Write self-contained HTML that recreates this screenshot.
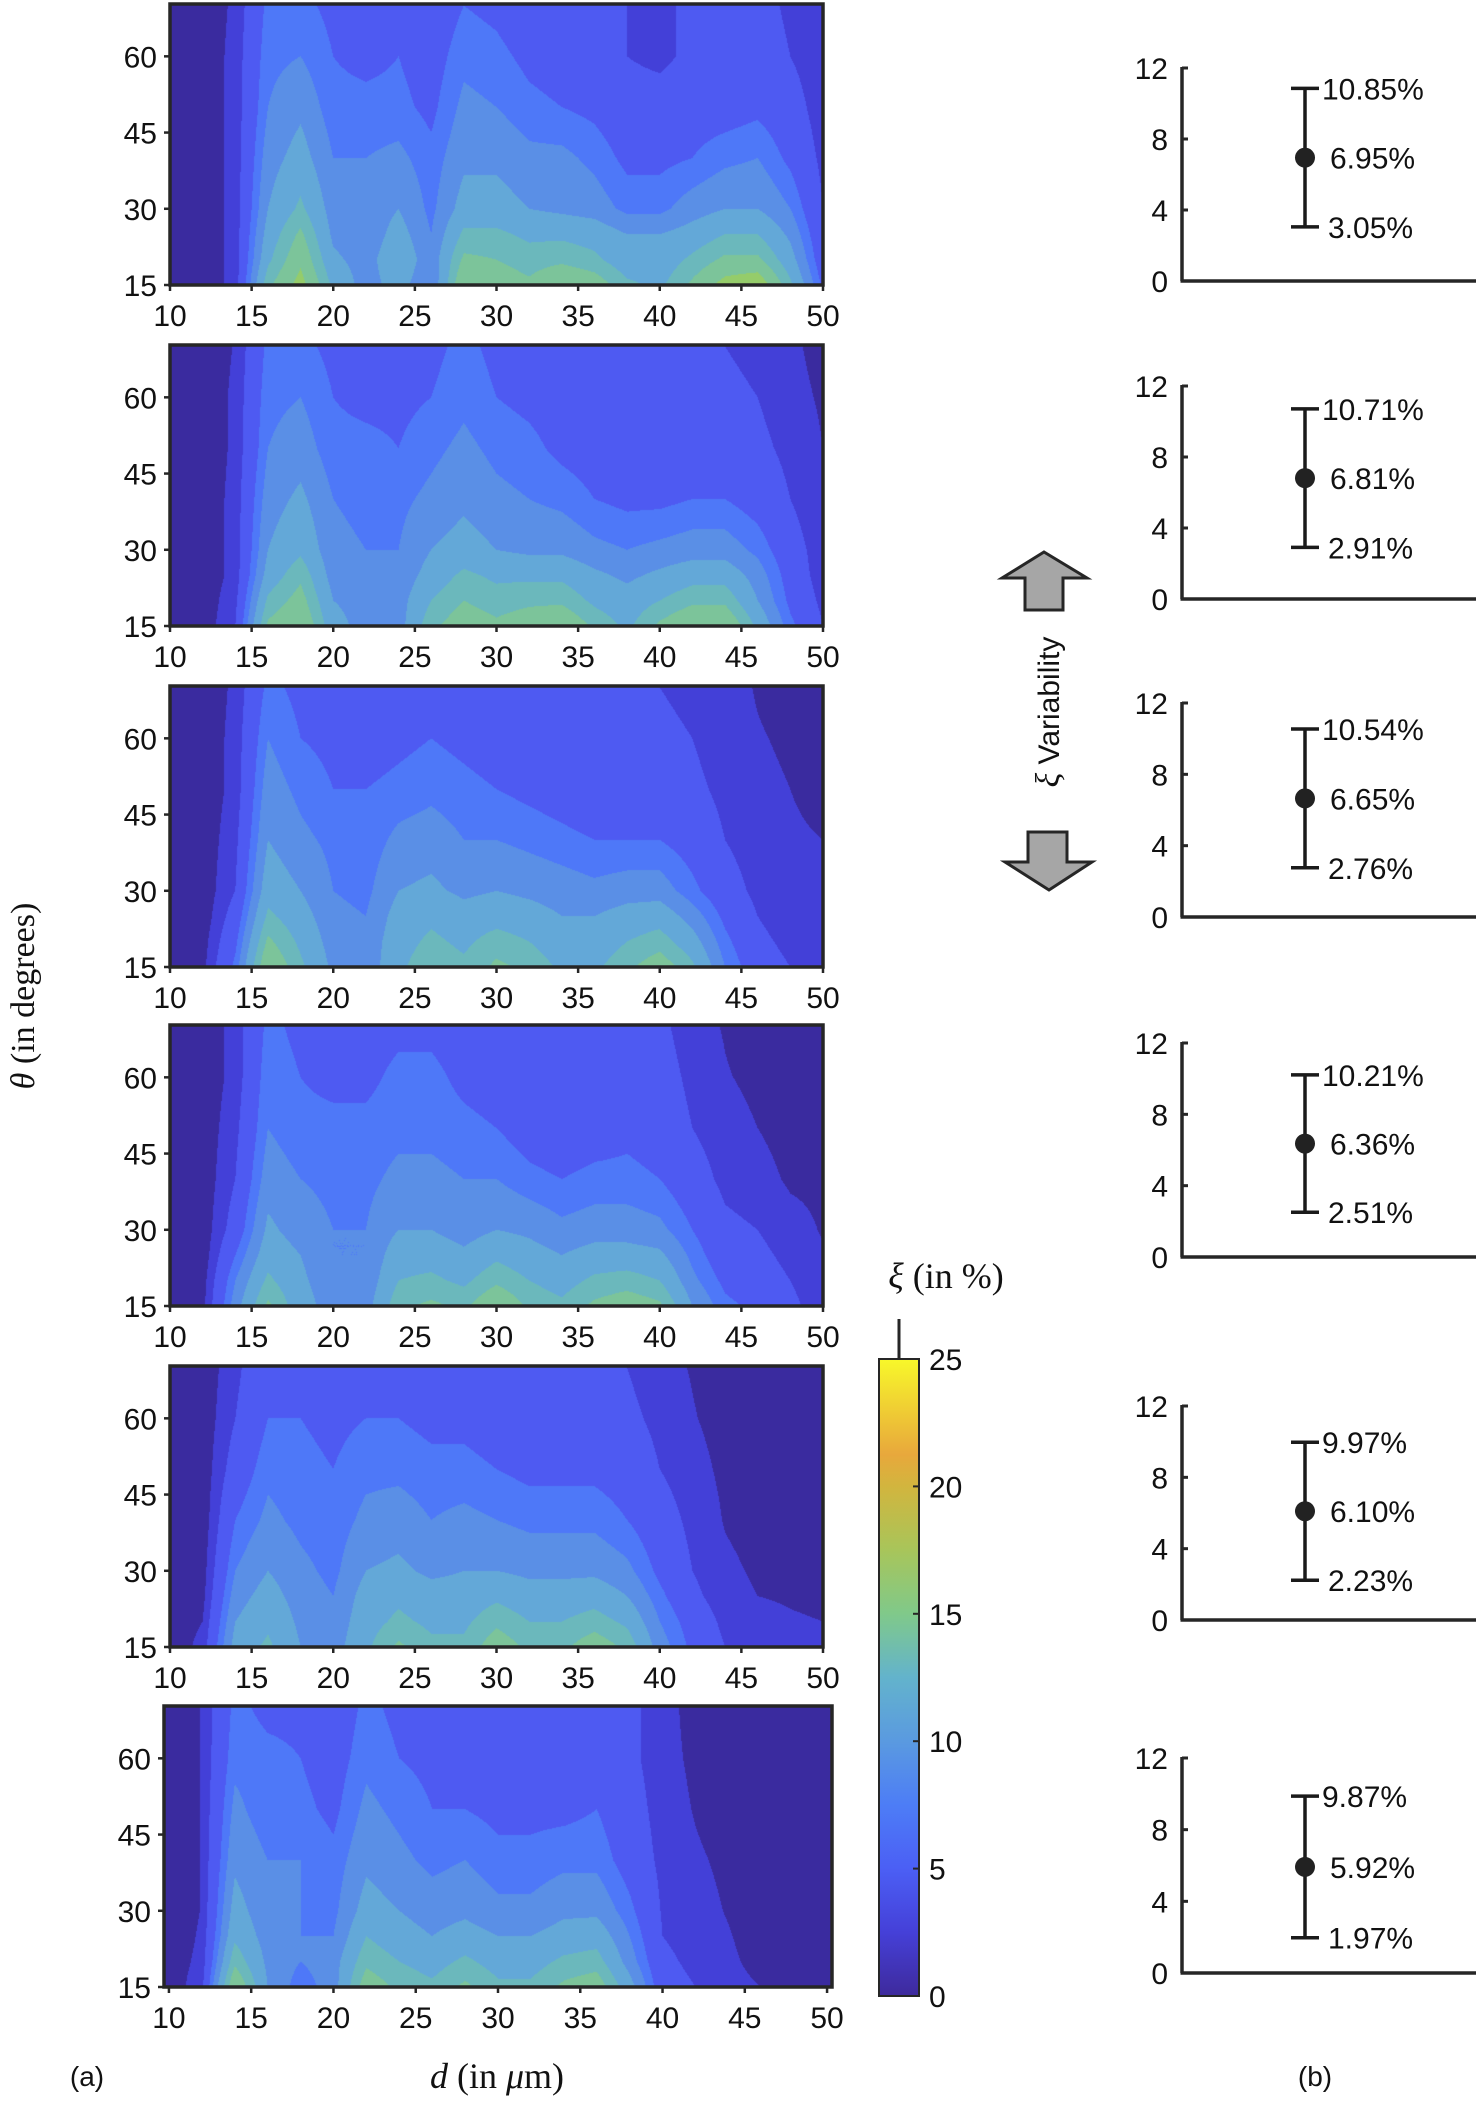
<!DOCTYPE html>
<html><head><meta charset="utf-8">
<style>
html,body{margin:0;padding:0;background:#fff;}
#root{position:relative;width:1480px;height:2104px;overflow:hidden;background:#fff;}
canvas{position:absolute;}
svg{position:absolute;left:0;top:0;}
</style></head>
<body>
<div id="root">
<svg id="svg" width="1480" height="2104"></svg>
</div>
<script>
// ---- data ----
const dGrid = [10,12,14,16,18,20,22,24,26,28,30,32,34,36,38,40,42,44,46,48,50];
const thetaGrid = [15,20,25,30,40,50,60,70];
const xTicks = [10,15,20,25,30,35,40,45,50];
const yTicks = [15,30,45,60];
const cbTicks = [0,5,10,15,20,25];
const panel1 = [
[1,1.5,3,14,18,12,9,11,8,17,16,15,17,16,13,12,15,18,19,13,6],
[1,1.5,3,12,16.5,10.5,9,12,8.5,15,14.5,13.5,14,13,11,11,13,15,15,11,5],
[1,1.5,3,11,15,9.5,8.5,11,8,13,13,12,12,11.5,10,10,11,12.5,12.5,9.5,4.5],
[1,1.5,3,10,13,9,8.5,10,7.5,11,11,10,9.5,9,7.5,7.5,9,10,10,8,4],
[1,1.5,3,9,11,8,8,8.5,7,9.5,9.5,8.5,8.5,7.5,6,6,6.5,7.5,8,6,3.5],
[1,1.5,3,8,9.5,7,7,7,6,8.5,8,7,6.5,6,5,5,5.5,5.5,6,5,3],
[1,1.5,3,7.5,8,6.5,6,6.5,5.5,7.5,7,6,5.5,5,4,3.5,4.5,5,5.5,4,2.8],
[1,1.5,2.8,7,7,6,5.5,5.5,5,6.5,6,5,4.5,4.5,4,3.5,4.5,4,5,3.5,2.6]];
const panel2 = [
[1,1.5,4,15,17,11,9,9,14,16,15,16,17,14,12,15,17,17,12,7,4],
[1,1.5,3.5,13,15.5,10,9,9,12.5,14.5,13.5,14,14,12,11,12.5,14,14,10,6,3.5],
[1,1.5,3,11,14,9,8.5,8.5,11,13,12,12,12,10.5,9.5,10.5,11.5,11.5,9,5.5,3],
[1,1.5,3,10,12,8.5,8,8,10,11,10,9.5,9.5,8.5,8,8.5,9,9,7.5,5,3],
[1,1.5,3,9,10.5,8,7.5,7.5,8.5,9.5,8.5,8,7.5,6.5,6,6,6.5,6.5,5.5,4,2.6],
[1,1.5,2.8,8,9,7,7,6.5,7.5,8.5,7.5,7,6,5.5,5,5,5,5,4.5,3.5,2.5],
[1,1.5,2.8,7.5,8,6.5,6,6,6.5,7.5,6.5,6,5.5,5,4.5,4.5,4.5,4.5,4,3,2.3],
[1,1.5,2.6,7,7,6,5.5,5.5,6,7,6,5.5,5,4.5,4,4,4,4,3.5,2.8,2]];
const panel3 = [
[1,2,7,17,13,9.5,8.5,12,14,13,15,14,12,12,14,16,13,8,5,4,3.5],
[1,1.8,6,15,12,9,8.5,11.5,13,12,13.5,12.5,11,11,12.5,13.5,11,7,4.5,3.5,3],
[1,1.5,5,13,11,8.5,8,11,12,11,11.5,11,10,10,11,11.5,9,6,4,3,2.8],
[1,1.5,4,11.5,10,8,7.5,10,10.5,9.5,10,9.5,9,8.5,9,9,7,5,3.5,2.8,2.6],
[1,1.5,3.5,10,8.5,7.5,7,8.5,9,8,8,7.5,7,6.5,6.5,6.5,5.5,4,3,2.6,2.5],
[1,1.5,3,9,7.5,6.5,6.5,7,7.5,7,6.5,6,5.5,5,5,5,4.5,3.5,2.8,2.5,2.3],
[1,1.5,3,8,6.5,6,5.5,6,6.5,6,5.5,5,5,4.5,4.5,4.5,4,3,2.6,2.3,2],
[1,1.5,2.8,7,6,5.5,5,5.5,6,5.5,5,4.5,4.5,4,4,4,3.5,3,2.4,2,1.8]];
const panel4 = [
[1,2,9,15,11,9,9,14,15,14,17,14,13,15,16,15,10,7,6,4.5,3],
[1,1.8,8,13,10.5,8.5,8.5,12.5,13,12,14,12.5,11.5,13,13.5,12.5,8.5,6,5,4,2.8],
[1,1.5,6.5,11.5,10,8,8,11.5,11.5,10.5,12,11,10,11,11,10.5,7.5,5,4.5,3.5,2.6],
[1,1.5,5,10.5,9,8,8,10,10,9,10,9.5,8.5,9,9,8.5,6.5,4.5,4,3,2.4],
[1,1.5,4,9,8,7.5,7.5,8.5,8.5,8,8,7,6.5,7,7,6.5,5,3.5,3,2.3,2.2],
[1,1.5,3.5,8,7,7,7,7.5,7.5,7,6.5,5.5,5,5.5,6,5.5,4,3,2.5,2,2],
[1,1.5,3,7.5,6.5,6,6,7,7,6,5.5,5,4.5,5,5,5,3.5,2.6,2.2,1.8,1.8],
[1,1.5,3,7,6,5.5,5.5,6,6,5.5,5,4.5,4.5,5,5,4.5,3,2.4,1.8,1.6,1.6]];
const panel5 = [
[1.5,3,11,13,10,9,12,15,13,13,16,14,14,16,14,9,6,4,3,3,2.8],
[1.5,2.5,10,12,9.5,8.5,11.5,13,12,12,14,12.5,12.5,13.5,12,8,5.5,3.5,2.8,2.6,2.5],
[1.2,2,9,11,9,8,11,12,11,11,12,11,11,11.5,10,7,4.5,3,2.5,2.4,2.3],
[1,1.8,8,10,8.5,7.5,10,10.5,9.5,10,10,9.5,9.5,9.5,8.5,6,4,2.8,2.3,2.2,2.1],
[1,1.5,6.5,8.5,7.5,7,8.5,9,8,8.5,8,7.5,7.5,7.5,6.5,5,3.5,2.4,2,2,2],
[1,1.5,5,7.5,7,6.5,7.5,7.5,7,7,6.5,6,6,6,5.5,4,3,2.2,1.8,1.8,1.8],
[1,1.5,4,6.5,6.5,6,6.5,6.5,6,6,5.5,5,5,5,4.5,3.5,2.6,2,1.6,1.6,1.6],
[1,1.5,3.5,6,6,5.5,6,6,5.5,5.5,5,4.5,4.5,4.5,4,3,2.4,1.8,1.5,1.5,1.5]];
const panel6 = [
[1.5,3.5,17,10,7,9,16,14,13,15,13,13,15,16,11,5,4,3,2.5,2,2.5],
[1.5,3,14,9.5,8,9,14,12.5,11.5,13,11.5,11.5,13,13.5,9,4.5,3.5,2.8,2,1.5,2],
[1.2,2.8,12,9,8,8,12.5,11,10,11,10,10,11,11.5,8,4,3.2,2.6,1.8,1.3,1.3],
[1,2.6,11,8.5,8,7.5,11,10,9,9.5,8.5,8.5,9.5,9.5,7,3.8,3,2.4,1.6,1.2,1.2],
[1,2.6,9.5,8,8,7,9.5,8.5,7.5,8,7,7,7.5,7.5,5.5,3.5,2.7,2.2,1.4,1.1,1.1],
[1,2.6,8.5,7,7,6,8.5,7.5,6.5,6.5,6,6,6,6.5,5,3.2,2.4,1.8,1.2,1,1],
[1,2.6,7.5,7,6.5,5.5,7.5,6.5,6,5.5,5.5,5,5.5,5.5,4.5,3,2.2,1.5,1,1,1],
[1,2.6,7,6,6,5,7,6,5.5,5,4.8,4.5,5,5,4.5,3,2,1.3,1,1,1]];
const ebUpper = [10.85,10.71,10.54,10.21,9.97,9.87];
const ebMean = [6.95,6.81,6.65,6.36,6.10,5.92];
const ebLower = [3.05,2.91,2.76,2.51,2.23,1.97];
const ebTicks = [0,4,8,12];
const levels = [2.5,4,6.5,8,10,12.5,14.5,17,19.5,22];

// ---- layout ----
const panels = [panel1,panel2,panel3,panel4,panel5,panel6];
const boxes = [
 {x:170,y:4,w:653,h:281,xmin:10,xmax:50},
 {x:170,y:345,w:653,h:281,xmin:10,xmax:50},
 {x:170,y:686,w:653,h:281,xmin:10,xmax:50},
 {x:170,y:1025,w:653,h:281,xmin:10,xmax:50},
 {x:170,y:1366,w:653,h:281,xmin:10,xmax:50},
 {x:164,y:1706,w:668,h:281,xmin:9.7,xmax:50.3}];
const TMIN=15, TMAX=70.3;
const bandColors = ['#3a2b9f','#4340d8','#4e5af2','#4e78f8','#5a8fe6','#63a8d8','#6bb8bc','#7cc49a','#95cc6a','#c8c040','#e8b030'];
const NS='http://www.w3.org/2000/svg';
const svg=document.getElementById('svg');
const root=document.getElementById('root');
function hex(c){return [parseInt(c.substr(1,2),16),parseInt(c.substr(3,2),16),parseInt(c.substr(5,2),16)];}
const bandRGB=bandColors.map(hex);
function el(tag,attrs,parent){const e=document.createElementNS(NS,tag);for(const k in attrs)e.setAttribute(k,attrs[k]);(parent||svg).appendChild(e);return e;}
function txt(s,attrs,parent){const t=el('text',attrs,parent);t.textContent=s;return t;}
function bandOf(v){let k=0;while(k<levels.length&&v>=levels[k])k++;return k;}
function interp(grid,d,t){
  d=Math.max(dGrid[0],Math.min(dGrid[dGrid.length-1],d));
  t=Math.max(thetaGrid[0],Math.min(thetaGrid[thetaGrid.length-1],t));
  let i=0;while(i<dGrid.length-2&&d>dGrid[i+1])i++;
  let j=0;while(j<thetaGrid.length-2&&t>thetaGrid[j+1])j++;
  const u=(d-dGrid[i])/(dGrid[i+1]-dGrid[i]);
  const v=(t-thetaGrid[j])/(thetaGrid[j+1]-thetaGrid[j]);
  const a=grid[j][i],b=grid[j][i+1],c=grid[j+1][i],e=grid[j+1][i+1];
  return a*(1-u)*(1-v)+b*u*(1-v)+c*(1-u)*v+e*u*v;
}
const FS=30;
panels.forEach((grid,p)=>{
  const B=boxes[p];
  const xs=v=>B.x+(v-B.xmin)/(B.xmax-B.xmin)*B.w;
  const ys=v=>B.y+B.h-(v-TMIN)/(TMAX-TMIN)*B.h;
  const cv=document.createElement('canvas');
  cv.width=B.w;cv.height=B.h;cv.style.left=B.x+'px';cv.style.top=B.y+'px';
  
  
  root.insertBefore(cv,svg);
  const ctx=cv.getContext('2d');const img=ctx.createImageData(B.w,B.h);
  for(let py=0;py<B.h;py++){
    const t=TMIN+(B.h-py-0.5)/B.h*(TMAX-TMIN);
    for(let px=0;px<B.w;px++){
      const d=B.xmin+(px+0.5)/B.w*(B.xmax-B.xmin);
      const val=interp(grid,d,t);
      const k=Math.min(bandRGB.length-1,bandOf(val));
      const c=bandRGB[k];const o=(py*B.w+px)*4;
      img.data[o]=c[0];img.data[o+1]=c[1];img.data[o+2]=c[2];img.data[o+3]=255;
    }
  }
  ctx.putImageData(img,0,0);
  const g=el('g',{});
  
  
  const fr=el('rect',{x:B.x,y:B.y,width:B.w,height:B.h,fill:'none',stroke:'#262626','stroke-width':3.5},g);
  
  
  xTicks.forEach(v=>{
    const X=xs(v);
    el('line',{x1:X,x2:X,y1:B.y+B.h,y2:B.y+B.h+6,stroke:'#262626','stroke-width':2.5},g);
    const t=txt(String(v),{x:X,y:B.y+B.h+41,'text-anchor':'middle','font-family':'Liberation Sans, sans-serif','font-size':FS,fill:'#111'},g);
    
    
  });
  yTicks.forEach(v=>{
    const Y=ys(v);
    el('line',{x1:B.x-6,x2:B.x,y1:Y,y2:Y,stroke:'#262626','stroke-width':2.5},g);
    const t=txt(String(v),{x:B.x-13,y:Y+11,'text-anchor':'end','font-family':'Liberation Sans, sans-serif','font-size':FS,fill:'#111'},g);
    
    
  });
});
// axis titles
const yt=txt('',{x:0,y:0,transform:'translate(34,996) rotate(-90)','text-anchor':'middle','font-family':'Liberation Serif, serif','font-size':34,fill:'#111'});
yt.innerHTML='<tspan font-style="italic">θ</tspan> (in degrees)';


const xt=txt('',{x:497,y:2088,'text-anchor':'middle','font-family':'Liberation Serif, serif','font-size':36,fill:'#111'});
xt.innerHTML='<tspan font-style="italic">d</tspan> (in <tspan font-style="italic">μ</tspan>m)';


const la=txt('(a)',{x:87,y:2086,'text-anchor':'middle','font-family':'Liberation Sans, sans-serif','font-size':28,fill:'#111'});


const lb=txt('(b)',{x:1315,y:2086,'text-anchor':'middle','font-family':'Liberation Sans, sans-serif','font-size':28,fill:'#111'});


// colorbar
const CB={x:879,y:1359,w:40,h:637,min:0,max:25};
const defs=el('defs',{});
const lg=el('linearGradient',{id:'parula',x1:0,y1:1,x2:0,y2:0},defs);
[[0,'#3e2a9c'],[0.1,'#4540d8'],[0.2,'#4b5ff5'],[0.3,'#4d7df6'],[0.4,'#5a9ae0'],[0.5,'#63b3cc'],[0.6,'#80c98a'],[0.7,'#a8c55a'],[0.8,'#d2b53e'],[0.85,'#e8a83c'],[1,'#f8f82a']].forEach(s=>el('stop',{offset:s[0],'stop-color':s[1]},lg));
const cb=el('rect',{x:CB.x,y:CB.y,width:CB.w,height:CB.h,fill:'url(#parula)',stroke:'#262626','stroke-width':2});


el('line',{x1:CB.x+CB.w/2,x2:CB.x+CB.w/2,y1:CB.y-40,y2:CB.y,stroke:'#262626','stroke-width':3});
cbTicks.forEach(v=>{
  const Y=CB.y+CB.h-(v-CB.min)/(CB.max-CB.min)*CB.h;
  el('line',{x1:CB.x+CB.w-6,x2:CB.x+CB.w,y1:Y,y2:Y,stroke:'#262626','stroke-width':2});
  const t=txt(String(v),{x:CB.x+CB.w+10,y:Y+11,'font-family':'Liberation Sans, sans-serif','font-size':FS,fill:'#111'});
  
  
});
const cbt=txt('',{x:946,y:1288,'text-anchor':'middle','font-family':'Liberation Serif, serif','font-size':36,fill:'#111'});
cbt.innerHTML='<tspan font-style="italic">ξ</tspan> (in %)';


// error bar panels
const y12=[68,386,703,1043,1406,1758], y0=[281,599,917,1257,1620,1973];
const AX=1182, EBX=1305;
ebMean.forEach((m,p)=>{
  const ys=v=>y0[p]-(v/12)*(y0[p]-y12[p]);
  const g=el('g',{});
  
  
  el('line',{x1:AX,x2:AX,y1:y12[p]-1,y2:y0[p],stroke:'#262626','stroke-width':3.5},g);
  el('line',{x1:AX-1.5,x2:1476,y1:y0[p],y2:y0[p],stroke:'#262626','stroke-width':3.5},g);
  ebTicks.forEach(v=>{
    const Y=ys(v);
    el('line',{x1:AX,x2:AX+6,y1:Y,y2:Y,stroke:'#262626','stroke-width':3},g);
    const t=txt(String(v),{x:AX-14,y:Y+11,'text-anchor':'end','font-family':'Liberation Sans, sans-serif','font-size':FS,fill:'#111'},g);
    
    
  });
  const up=ys(ebUpper[p]),lo=ys(ebLower[p]),mm=ys(m);
  const bar=el('line',{x1:EBX,x2:EBX,y1:up,y2:lo,stroke:'#1a1a1a','stroke-width':3.5},g);
  
  
  el('line',{x1:EBX-14,x2:EBX+14,y1:up,y2:up,stroke:'#1a1a1a','stroke-width':3.5},g);
  el('line',{x1:EBX-14,x2:EBX+14,y1:lo,y2:lo,stroke:'#1a1a1a','stroke-width':3.5},g);
  const dot=el('circle',{cx:EBX,cy:mm,r:10,fill:'#222'},g);
  
  
  const f={'font-family':'Liberation Sans, sans-serif','font-size':30,fill:'#111'};
  const t1=txt(ebUpper[p].toFixed(2)+'%',Object.assign({x:EBX+17,y:up+11},f),g);
  
  
  const t2=txt(m.toFixed(2)+'%',Object.assign({x:EBX+25,y:mm+11},f),g);
  
  
  const t3=txt(ebLower[p].toFixed(2)+'%',Object.assign({x:EBX+23,y:lo+11},f),g);
  
  
});
// arrows
const ua=el('polygon',{points:'1044,552 1087,578 1063,578 1063,610 1025,610 1025,578 1002,578',fill:'#a6a6a6',stroke:'#262626','stroke-width':3});


const da=el('polygon',{points:'1028,832 1067,832 1067,862 1092,862 1049,890 1005,862 1028,862',fill:'#a6a6a6',stroke:'#262626','stroke-width':3});


const vt=txt('',{x:0,y:0,transform:'translate(1059,712) rotate(-90)','text-anchor':'middle','font-family':'Liberation Sans, sans-serif','font-size':30,fill:'#111'});
vt.innerHTML='<tspan font-family="Liberation Serif, serif" font-style="italic" font-size="34">ξ</tspan>  Variability';


</script>
</body></html>
